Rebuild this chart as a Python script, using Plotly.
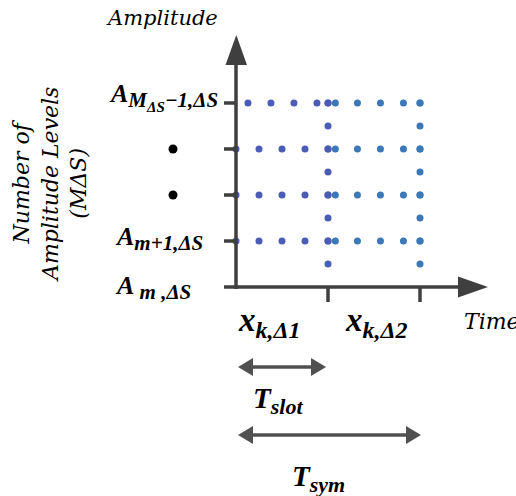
import plotly.graph_objects as go

# ---- data (time in slot units, amplitude in level units) ----
slot1_times = [0.0, 0.25, 0.5, 0.75, 1.0]
slot1_times_top = [0.13, 0.38, 0.63, 0.88, 1.0]
slot2_times = [1.08, 1.32, 1.57, 1.82, 2.0]
lower_levels = [1, 2, 3]
top_level = 4
all_levels = [1, 2, 3, 4]
boundary_levels = [0.5, 1, 1.5, 2, 2.5, 3, 3.5, 4]
slot_boundaries = [1, 2]
ellipsis_levels = [2, 3]

LEFT_C = "#4a5cb6"
RIGHT_C = "#3b78b7"
AX_C = "#3f3f3f"

# pixel <-> data mapping helpers (for decoration placement)
X0, SX = 236.0, 92.0
Y0, SY = 287.0, 46.0
W, H = 516, 496
def dx(px): return (px - X0) / SX
def dy(py): return (Y0 - py) / SY

fig = go.Figure()

# slot 1 dots
xs, ys = [], []
for lv in lower_levels:
    xs += slot1_times; ys += [lv] * len(slot1_times)
xs += slot1_times_top; ys += [top_level] * len(slot1_times_top)
xs += [slot_boundaries[0]] * len(boundary_levels); ys += boundary_levels
fig.add_trace(go.Scatter(x=xs, y=ys, mode="markers",
                         marker=dict(size=7, color=LEFT_C), hoverinfo="skip"))
# slot 2 dots
xs, ys = [], []
for lv in all_levels:
    xs += slot2_times; ys += [lv] * len(slot2_times)
xs += [slot_boundaries[1]] * len(boundary_levels); ys += boundary_levels
fig.add_trace(go.Scatter(x=xs, y=ys, mode="markers",
                         marker=dict(size=7, color=RIGHT_C), hoverinfo="skip"))
# vertical ellipsis dots
fig.add_trace(go.Scatter(x=[dx(173)] * len(ellipsis_levels), y=ellipsis_levels, mode="markers",
                         marker=dict(size=9, color="black"), hoverinfo="skip"))

shapes = []
def line(x0, y0, x1, y1, w=3.5, c=AX_C):
    shapes.append(dict(type="line", xref="x", yref="y", x0=x0, y0=y0, x1=x1, y1=y1,
                       line=dict(color=c, width=w)))
def tri(pts, c=AX_C):
    p = "M " + " L ".join(f"{a},{b}" for a, b in pts) + " Z"
    shapes.append(dict(type="path", xref="x", yref="y", path=p, fillcolor=c,
                       line=dict(color=c, width=0)))

# axes
line(0, dy(289), 0, dy(62))
tri([(dx(225.5), dy(65)), (dx(247), dy(65)), (dx(236.3), dy(35))])
line(dx(224), 0, dx(460), 0)
tri([(dx(458), dy(276.5)), (dx(458), dy(297.5)), (dx(488), dy(287))])
for lv in all_levels:
    line(dx(224), lv, 0, lv)
for t in slot_boundaries:
    line(t, 0, t, dy(302))

# double arrows
ARR_C = "#505050"
def darrow(t0, t1, py):
    yv = dy(py)
    line(t0 + dx(236 + 12) , yv, t1 - dx(236 + 12), yv, w=3.5, c=ARR_C)
    hl, hw = 15 / SX, 9 / SY
    tri([(t0, yv), (t0 + hl, yv + hw), (t0 + hl, yv - hw)], c=ARR_C)
    tri([(t1, yv), (t1 - hl, yv + hw), (t1 - hl, yv - hw)], c=ARR_C)
darrow(dx(238), dx(326), 367)
darrow(dx(238), dx(421), 435)

fig.update_layout(shapes=shapes)

SERIF = "Liberation Serif"
SERIF2 = "DejaVu Serif"
ann = []
def txt(text, px, py, size, font=SERIF, xanchor="left", yanchor="middle", angle=0, align="left"):
    ann.append(dict(text=text, x=dx(px), y=dy(py), xref="x", yref="y", showarrow=False,
                    xanchor=xanchor, yanchor=yanchor, textangle=angle, align=align,
                    font=dict(family=font, size=size, color="black")))

def sub(s, px):
    return f'<sub><span style="font-size:{px}px">{s}</span></sub>'

txt("<i>Amplitude</i>", 161.5, 18, 21, font=SERIF2, xanchor="center")
txt("<i>Time</i>", 462, 321, 22, font=SERIF2)
txt("<i>Number of<br>Amplitude Levels<br>(MΔS)</i>", 50, 185, 22, font=SERIF2,
    xanchor="center", angle=-90, align="center")

txt("<b><i>A" + sub("M" + sub("ΔS", 15) + "−1,ΔS", 21) + "</i></b>", 107, 97, 26)
txt("<b><i>A" + sub("m+1,ΔS", 21) + "</i></b>", 113, 238, 26)
txt("<b><i>A" + sub(" m ,ΔS", 21) + "</i></b>", 113, 287, 26)

txt("<b><i>x" + sub("k,Δ1", 24) + "</i></b>", 236, 322, 33)
txt("<b><i>x" + sub("k,Δ2", 24) + "</i></b>", 343, 322, 33)
txt("<b><i>T" + sub("slot", 22) + "</i></b>", 251, 400, 29)
txt("<b><i>T" + sub("sym", 22) + "</i></b>", 290, 478, 29)

fig.update_layout(annotations=ann)

fig.update_layout(
    width=W, height=H, margin=dict(l=0, r=0, t=0, b=0),
    paper_bgcolor="white", plot_bgcolor="white", showlegend=False,
    xaxis=dict(range=[dx(0), dx(W)], visible=False, fixedrange=True),
    yaxis=dict(range=[dy(H), dy(0)], visible=False, fixedrange=True),
)
fig.write_html("out.html")
